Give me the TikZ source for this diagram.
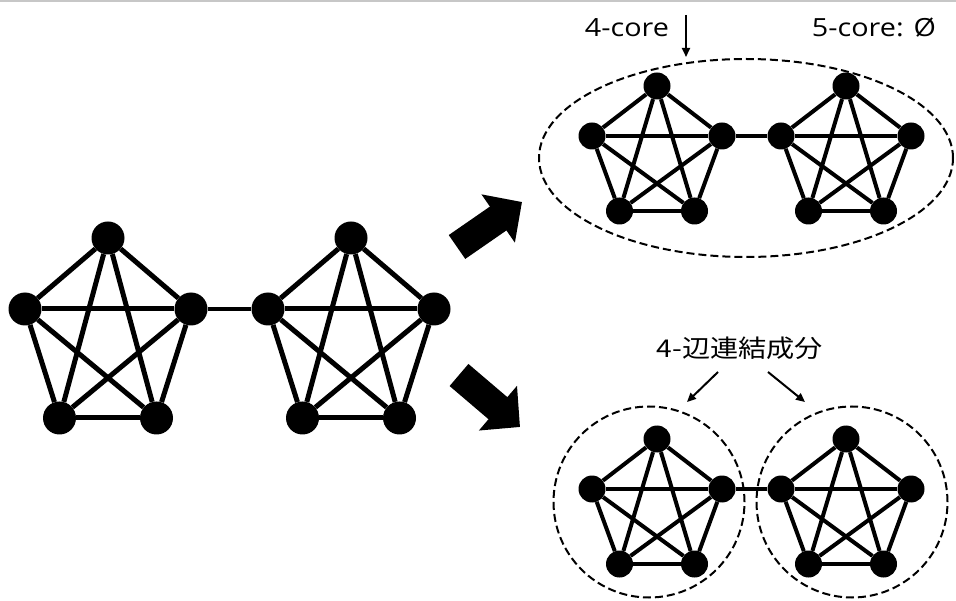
\documentclass[tikz,border=0pt]{standalone}
\usepackage{fontspec}
\usepackage{graphicx}
\setmainfont{Open Sans}
\newfontfamily\jpfont{Noto Sans CJK JP}
\usetikzlibrary{arrows.meta,shapes.geometric}
\tikzset{
  bigv/.style={circle,fill=black,inner sep=0pt,minimum size=33pt},
  smallv/.style={circle,fill=black,inner sep=0pt,minimum size=27pt},
  bigedge/.style={line width=5pt},
  smalledge/.style={line width=4pt},
  groupline/.style={draw,dash pattern=on 8pt off 4pt,line width=2pt},
  label/.style={font=\fontsize{25}{30}\selectfont,anchor=base,inner sep=0pt},
  thinarrow/.style={line width=2pt,-{Triangle[length=9pt,width=8pt]}},
  blockarrow/.style={line width=29pt,-{Triangle[length=29pt,width=57pt]}},
}
% #1 name, #2 #3 top vertex, #4 #5 offset of side vertices, #6 #7 offset of bottom vertices, #8 node style, #9 edge style
\newcommand{\kpenta}[9]{%
  \node[#8] (#1t)  at (#2,#3) {};
  \node[#8] (#1l)  at ({#2-#4},{#3+#5}) {};
  \node[#8] (#1r)  at ({#2+#4},{#3+#5}) {};
  \node[#8] (#1bl) at ({#2-#6},{#3+#7}) {};
  \node[#8] (#1br) at ({#2+#6},{#3+#7}) {};
  \foreach \ea/\eb in {t/l,t/r,t/bl,t/br,l/r,l/bl,l/br,r/bl,r/br,bl/br}
    \draw[#9] (#1\ea) -- (#1\eb);
}
\begin{document}
\begin{tikzpicture}[x=1pt,y=-1pt]
\useasboundingbox (0,0) rectangle (956,601);
\fill[white] (0,0) rectangle (956,601);
\draw[black!22,line width=1.5pt] (0,1) -- (956,1);

% left big graph
\kpenta{A}{108}{238}{83}{71}{48.5}{180}{bigv}{bigedge}
\kpenta{B}{351}{238}{83}{71}{48.5}{180}{bigv}{bigedge}
\draw[line width=4pt] (Ar) -- (Bl);

% top right
\kpenta{C}{657}{86}{65}{50}{37.5}{125}{smallv}{smalledge}
\kpenta{D}{846}{86}{65}{50}{37.5}{125}{smallv}{smalledge}
\draw[line width=4pt] (Cr) -- (Dl);
\node[groupline,ellipse,minimum width=414pt,minimum height=198pt,inner sep=0pt] (core) at (746,158) {};

% bottom right
\kpenta{E}{657}{439}{65}{50}{37.5}{125}{smallv}{smalledge}
\kpenta{F}{846}{439}{65}{50}{37.5}{125}{smallv}{smalledge}
\draw[line width=4pt] (Er) -- (Fl);
\node[groupline,circle,minimum size=191pt,inner sep=0pt] (compA) at (649,502) {};
\node[groupline,circle,minimum size=191pt,inner sep=0pt] (compB) at (852,502) {};

% labels
\node[label] (l4core) at (627,37) {\scalebox{1.15}[1]{4-core}};
\node[label] (l5core) at (874,37) {\scalebox{1.15}[1]{5-core: Ø}};
\node[label,font=\jpfont\fontsize{24.5}{30}\selectfont] (lcomp) at (740,358) {\scalebox{1.15}[1]{4-辺連結成分}};

% thin arrows
\coordinate (c1) at (686,15);
\coordinate (c2) at (686,57);
\draw[thinarrow] (c1) -- (c2);
\coordinate (d1) at (718,372);
\coordinate (d2) at (687,402);
\draw[thinarrow] (d1) -- (d2);
\coordinate (e1) at (768,372);
\coordinate (e2) at (805,402);
\draw[thinarrow] (e1) -- (e2);

% block arrows
\coordinate (u1) at (457,247);
\coordinate (u2) at (522,202);
\draw[blockarrow] (u1) -- (u2);
\coordinate (w1) at (459,375);
\coordinate (w2) at (520,427);
\draw[blockarrow] (w1) -- (w2);
\end{tikzpicture}
\end{document}
